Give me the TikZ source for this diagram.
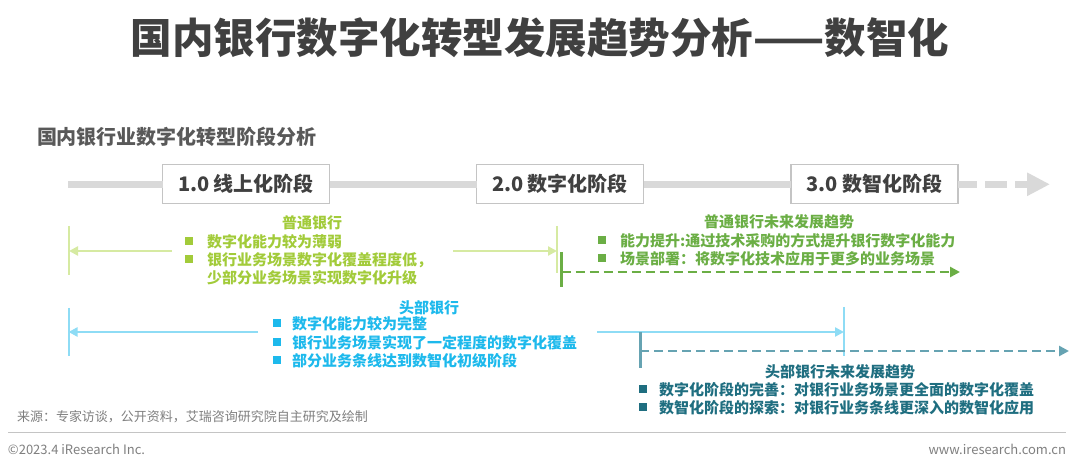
\documentclass[tikz,border=0pt]{standalone}
\usepackage{fontspec}
\setmainfont{Noto Sans CJK SC}
\usetikzlibrary{arrows.meta}
\definecolor{titlegray}{HTML}{404040}
\definecolor{subgray}{HTML}{595959}
\definecolor{boxgray}{HTML}{C4C4C4}
\definecolor{barG}{HTML}{D9D9D9}
\definecolor{gtext}{HTML}{A2CB3A}
\definecolor{gline}{HTML}{D6EAA2}
\definecolor{dgreen}{HTML}{6BAE45}
\definecolor{ctext}{HTML}{1DB9EC}
\definecolor{cline}{HTML}{8EDCF5}
\definecolor{tline}{HTML}{66A3B2}
\definecolor{ttext}{HTML}{1F6E80}
\definecolor{foot}{HTML}{7F7F7F}
\tikzset{
  every node/.style={inner sep=0pt, outer sep=0pt},
  fs/.style={font=\fontsize{#1}{#1}\selectfont},
  stagebox/.style={draw=boxgray, line width=1.8pt, fill=white, minimum width=167pt, minimum height=39pt, text=titlegray, font=\bfseries\fontsize{20}{24}\selectfont},
  gtx/.style={text=gtext, font=\bfseries\fontsize{15}{15}\selectfont},
  dgtx/.style={text=dgreen, font=\bfseries\fontsize{15}{15}\selectfont},
  ctx/.style={text=ctext, font=\bfseries\fontsize{15}{15}\selectfont},
  ttx/.style={text=ttext, font=\bfseries\fontsize{15}{15}\selectfont},
  sq/.style={fill=#1, minimum width=8pt, minimum height=8pt},
  lightarrow/.style={draw=#1, line width=2.6pt, -{Triangle[length=9pt,width=9pt]}},
  tick/.style={draw=#1, line width=2pt},
  futarrow/.style={draw=#1, line width=2.8pt, dash pattern=on 9pt off 5pt, -{Triangle[length=10pt,width=10pt]}},
}
\begin{document}
\begin{tikzpicture}[x=1pt,y=-1pt]
\useasboundingbox (0,0) rectangle (1080,462);
% title
\node[text=titlegray, font=\bfseries\fontsize{41.5}{44}\selectfont] (title) at (540,38) {国内银行数字化转型发展趋势分析——数智化};
\node[anchor=west, text=subgray, font=\bfseries\fontsize{20}{21}\selectfont] (sub) at (37,137) {国内银行业数字化转型阶段分析};
% timeline
\coordinate (tstart) at (68,184.3);
\coordinate (tend) at (1050,184.3);
\node[stagebox] (s1) at (246,184) {1.0 线上化阶段};
\node[stagebox] (s2) at (560,184) {2.0 数字化阶段};
\node[stagebox] (s3) at (874.5,184) {3.0 数智化阶段};
\draw[barG, line width=7pt] (tstart) -- (s1.west |- tstart);
\draw[barG, line width=7pt] (s1.east |- tstart) -- (s2.west |- tstart);
\draw[barG, line width=7pt] (s2.east |- tstart) -- (s3.west |- tstart);
\draw[barG, line width=7pt, dash pattern=on 19pt off 8pt on 22pt off 8pt on 40pt off 0pt, -{Triangle[length=23pt,width=22pt]}] (s3.east |- tstart) -- (tend);
% ordinary banks
\node[gtx] (g0) at (312,223) {普通银行};
\node[sq=gtext] (gb1) at (189,241.5) {};
\node[sq=gtext] (gb2) at (189,259.5) {};
\node[gtx, anchor=west] (g1) at (207,242) {数字化能力较为薄弱};
\node[gtx, anchor=west] (g2) at (207,260) {银行业务场景数字化覆盖程度低，};
\node[gtx, anchor=west] (g3) at (207,278) {少部分业务场景实现数字化升级};
\coordinate (gLt) at (69,226); \coordinate (gLb) at (69,275);
\coordinate (gRt) at (557,226); \coordinate (gRb) at (557,273);
\coordinate (gL) at (69,251); \coordinate (gR) at (557,251);
\coordinate (gA) at (172,251); \coordinate (gB) at (453,251);
\draw[tick=gline] (gLt) -- (gLb);
\draw[tick=gline] (gRt) -- (gRb);
\draw[lightarrow=gline] (gA) -- (gL);
\draw[lightarrow=gline] (gB) -- (gR);
% ordinary future
\coordinate (dgt) at (561.5,252); \coordinate (dgb) at (561.5,287);
\coordinate (dgs) at (561.5,272); \coordinate (dge) at (960,272);
\draw[tick=dgreen, line width=3pt] (dgt) -- (dgb);
\draw[futarrow=dgreen] (dgs) -- (dge);
\node[dgtx] (d0) at (779,222) {普通银行未来发展趋势};
\node[sq=dgreen] (db1) at (602,240.5) {};
\node[sq=dgreen] (db2) at (602,258.5) {};
\node[dgtx, anchor=west] (d1) at (620,241) {能力提升:通过技术采购的方式提升银行数字化能力};
\node[dgtx, anchor=west] (d2) at (620,259) {场景部署：将数字化技术应用于更多的业务场景};
% head banks
\node[ctx] (c0) at (429,308) {头部银行};
\node[sq=ctext] (cb1) at (277,323.5) {};
\node[sq=ctext] (cb2) at (277,342) {};
\node[sq=ctext] (cb3) at (277,360.5) {};
\node[ctx, anchor=west] (c1) at (292,324) {数字化能力较为完整};
\node[ctx, anchor=west] (c2) at (292,342.5) {银行业务场景实现了一定程度的数字化覆盖};
\node[ctx, anchor=west] (c3) at (292,361) {部分业务条线达到数智化初级阶段};
\coordinate (cLt) at (68.5,308); \coordinate (cLb) at (68.5,356);
\coordinate (cRt) at (844,307); \coordinate (cRb) at (844,356);
\coordinate (cL) at (68.5,332); \coordinate (cR) at (844,332);
\coordinate (cA) at (258,332); \coordinate (cB) at (597,332);
\draw[tick=cline] (cLt) -- (cLb);
\draw[tick=cline] (cRt) -- (cRb);
\draw[lightarrow=cline] (cA) -- (cL);
\draw[lightarrow=cline] (cB) -- (cR);
% head future
\coordinate (tvt) at (640,332); \coordinate (tvb) at (640,368);
\coordinate (tvs) at (640,351); \coordinate (tve) at (1069,351);
\draw[tick=tline, line width=3pt] (tvt) -- (tvb);
\draw[futarrow=tline] (tvs) -- (tve);
\node[ttx] (t0) at (840,372) {头部银行未来发展趋势};
\node[sq=ttext] (tb1) at (643,389.5) {};
\node[sq=ttext] (tb2) at (643,407.5) {};
\node[ttx, anchor=west] (t1) at (659,390) {数字化阶段的完善：对银行业务场景更全面的数字化覆盖};
\node[ttx, anchor=west] (t2) at (659,408) {数智化阶段的探索：对银行业务条线更深入的数智化应用};
% footer
\node[anchor=west, text=foot, fs=13] (src) at (17,417) {来源：专家访谈，公开资料，艾瑞咨询研究院自主研究及绘制};
\coordinate (fl) at (8,432.5); \coordinate (fr) at (1066,432.5);
\draw[boxgray, line width=1.5pt] (fl) -- (fr);
\node[anchor=west, text=foot, fs=13] (copy) at (8,449) {©2023.4 iResearch Inc.};
\node[anchor=east, text=foot, fs=13] (web) at (1066,449) {www.iresearch.com.cn};
\end{tikzpicture}
\end{document}
